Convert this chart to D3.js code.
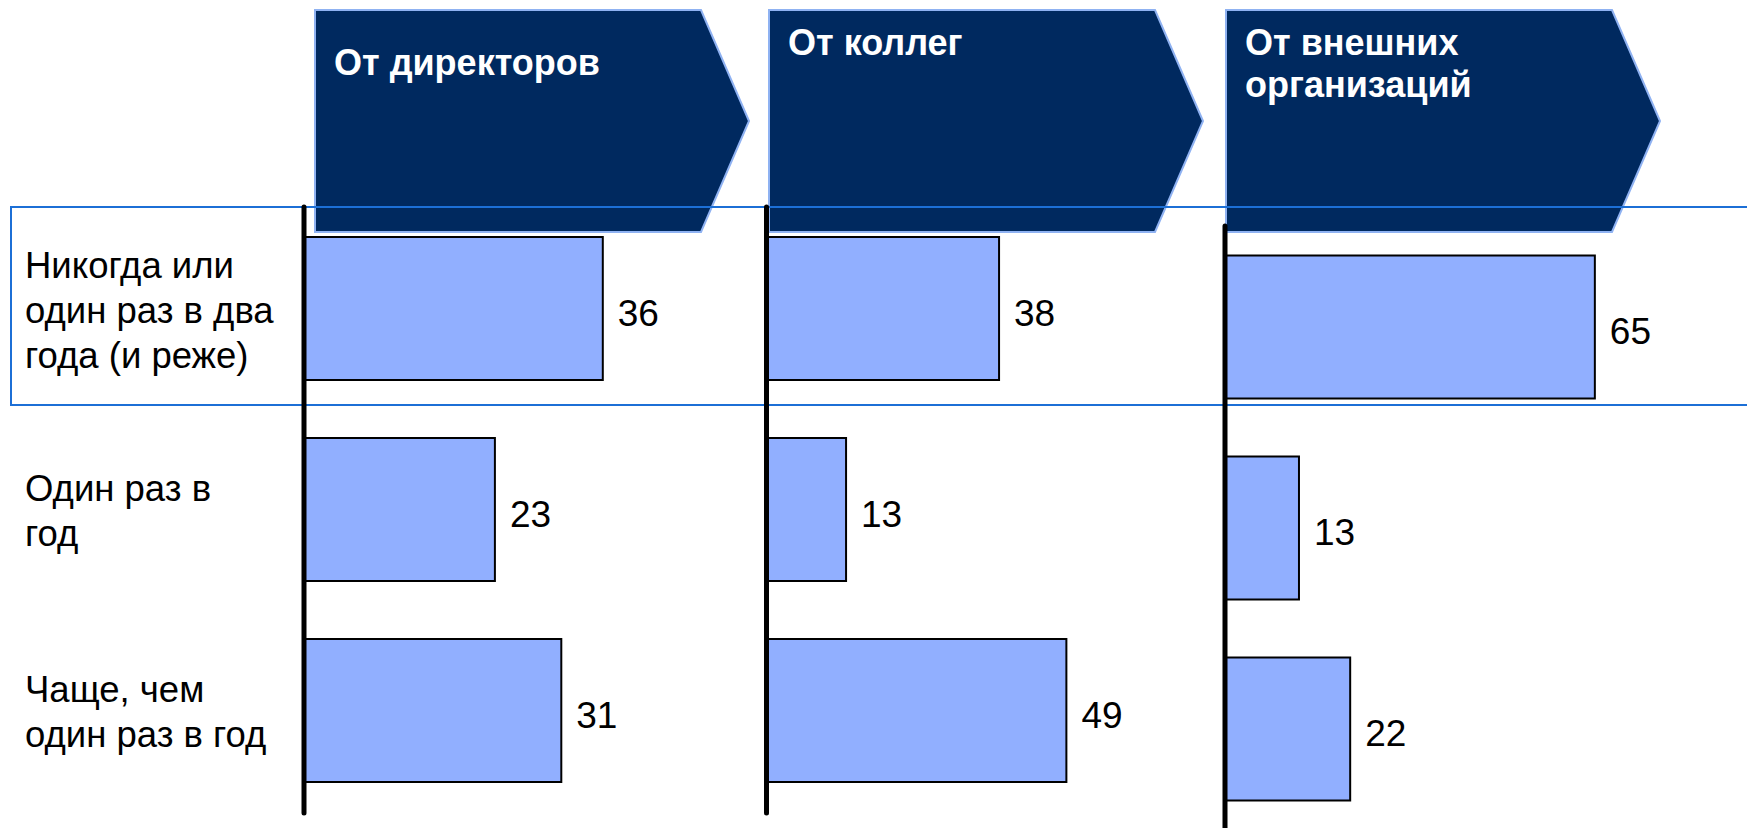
<!DOCTYPE html>
<html lang="ru">
<head>
<meta charset="utf-8">
<title>Частота получения информации</title>
<script src="https://cdn.jsdelivr.net/npm/d3@7"></script>
<style>
  html, body { margin: 0; padding: 0; background: #ffffff; }
  svg { display: block; }
  text { font-family: "Liberation Sans", Arial, sans-serif; }
</style>
</head>
<body>
<svg id="chart" width="1747" height="828"></svg>
<script>
// категории (строки), переносы строк как на слайде
const categories = [
  "Никогда или\nодин раз в два\nгода (и реже)",
  "Один раз в\nгод",
  "Чаще, чем\nодин раз в год"
];

// заголовки панелей
const sources = ["От директоров", "От коллег", "От внешних\nорганизаций"];

// значения по панелям
const directorsValues = [36, 23, 31];
const colleaguesValues = [38, 13, 49];
const externalValues = [65, 13, 22];

const seriesValues = [directorsValues, colleaguesValues, externalValues];

// раскладка панелей (пиксели)
const panels = [
  { axisX: 304,   top: 237,   pxPer100: 830, titleY: 75, arrowLeft: 315,  axisTop: 207, axisBottom: 813 },
  { axisX: 766.5, top: 237,   pxPer100: 612, titleY: 55, arrowLeft: 769,  axisTop: 207, axisBottom: 813 },
  { axisX: 1225,  top: 255.5, pxPer100: 569, titleY: 55, arrowLeft: 1226, axisTop: 226, axisBottom: 830 }
];

const svg = d3.select('#chart');

/**
 * Рисует шеврон-заголовок панели
 */
function drawChevron(g, left, title, titleY) {
  const top = 10, bottom = 232, bodyW = 386, tipW = 48;
  const mid = (top + bottom) / 2;
  const pts = [[left, top], [left + bodyW, top], [left + bodyW + tipW, mid], [left + bodyW, bottom], [left, bottom]];

  g.append('path')
    .attr('d', d3.line()(pts) + 'Z')
    .attr('fill', '#00295f')
    .attr('stroke', '#8fb2f2')
    .attr('stroke-width', 2);

  const t = g.append('text')
    .attr('x', left + 19)
    .attr('y', titleY)
    .attr('fill', '#ffffff')
    .attr('font-size', '36px')
    .attr('font-weight', 'bold');

  title.split('\n').forEach((line, i) => {
    t.append('tspan')
      .attr('x', left + 19)
      .attr('dy', i === 0 ? 0 : 42)
      .text(line);
  });
}

// шевроны
const headG = svg.append('g').attr('class', 'heads');
panels.forEach((p, i) => drawChevron(headG, p.arrowLeft, sources[i], p.titleY));

// рамка выделения первой строки
svg.append('rect')
  .attr('x', 11)
  .attr('y', 207)
  .attr('width', 1760)
  .attr('height', 198)
  .attr('fill', 'none')
  .attr('stroke', '#1c6fd6')
  .attr('stroke-width', 2);

// подписи категорий (по шкале первой панели)
const yLabels = d3.scaleBand()
  .domain(categories)
  .range([panels[0].top, panels[0].top + 545])
  .paddingInner(58 / 201)
  .paddingOuter(0);

const labelG = svg.append('g').attr('class', 'labels');
categories.forEach(cat => {
  const lines = cat.split('\n');
  const cy = yLabels(cat) + yLabels.bandwidth() / 2;
  const firstBaseline = cy + 14 - (lines.length - 1) * 45 / 2;
  const t = labelG.append('text')
    .attr('x', 25)
    .attr('y', firstBaseline)
    .attr('font-size', '36.5px')
    .attr('fill', '#000');
  lines.forEach((line, i) => {
    t.append('tspan').attr('x', 25).attr('dy', i === 0 ? 0 : 45).text(line);
  });
});

// панели с барами
panels.forEach((p, i) => {
  const values = seriesValues[i];
  const x = d3.scaleLinear().domain([0, 100]).range([p.axisX, p.axisX + p.pxPer100]);
  const y = d3.scaleBand()
    .domain(categories)
    .range([p.top, p.top + 545])
    .paddingInner(58 / 201)
    .paddingOuter(0);

  const g = svg.append('g').attr('class', 'panel panel-' + i);

  g.selectAll('rect.bar')
    .data(values)
    .join('rect')
    .attr('class', 'bar')
    .attr('x', x(0))
    .attr('y', (d, j) => y(categories[j]))
    .attr('width', d => x(d) - x(0))
    .attr('height', y.bandwidth())
    .attr('fill', '#91afff')
    .attr('stroke', '#000')
    .attr('stroke-width', 2);

  g.selectAll('text.value')
    .data(values)
    .join('text')
    .attr('class', 'value')
    .attr('x', d => x(d) + 15)
    .attr('y', (d, j) => y(categories[j]) + y.bandwidth() / 2 + 17)
    .attr('font-size', '37px')
    .attr('fill', '#000')
    .text(d => d);

  // вертикальная ось
  g.append('line')
    .attr('x1', p.axisX).attr('x2', p.axisX)
    .attr('y1', p.axisTop).attr('y2', p.axisBottom)
    .attr('stroke', '#000')
    .attr('stroke-width', 5)
    .attr('stroke-linecap', 'round');
});
</script>
</body>
</html>
